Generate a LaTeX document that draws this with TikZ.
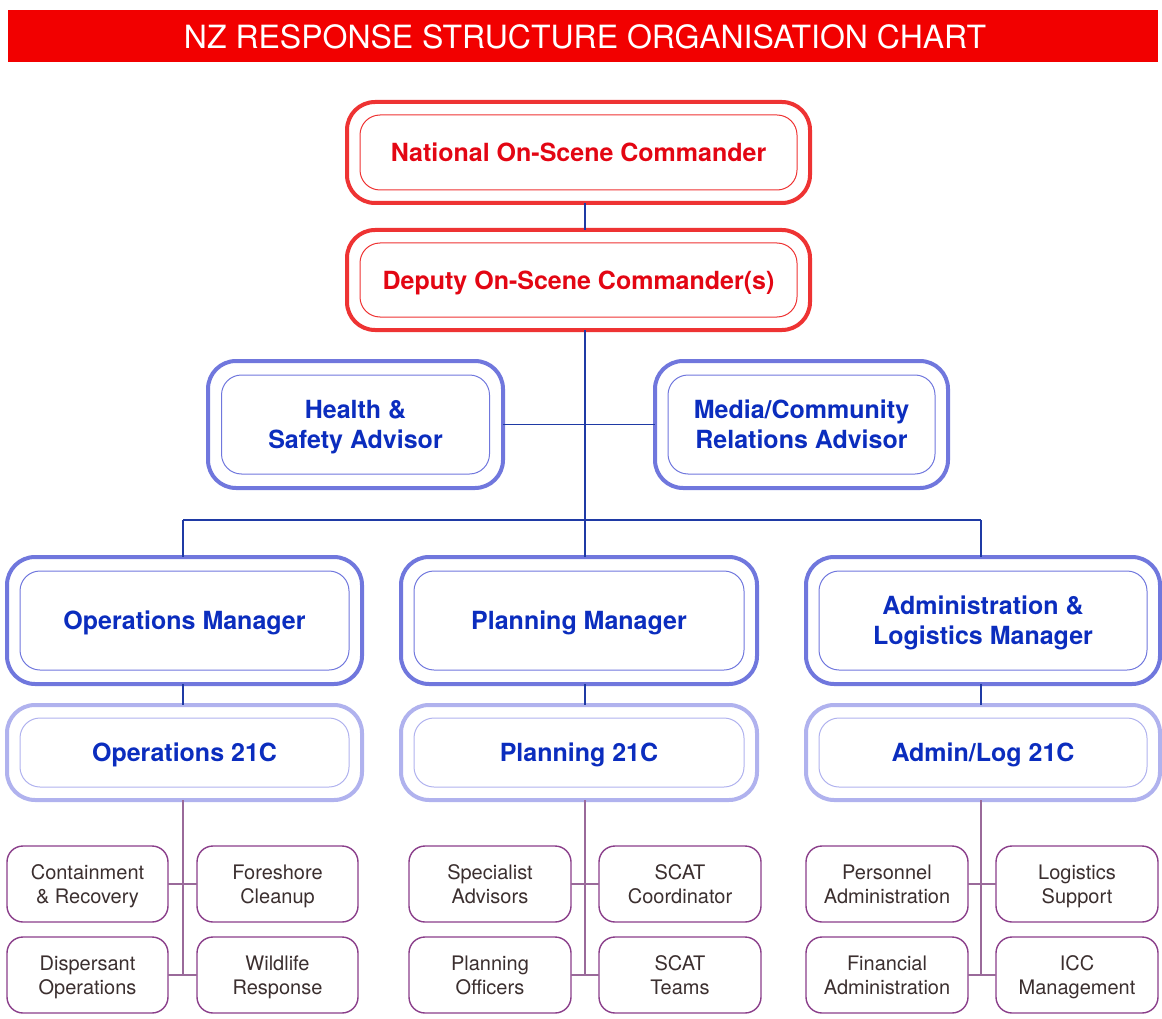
\documentclass[tikz,border=0pt]{standalone}
\usepackage{fontspec}
\setmainfont{TeX Gyre Heros}
\usetikzlibrary{calc}
\definecolor{bannerred}{HTML}{F20000}
\definecolor{cmdred}{HTML}{EE3333}
\definecolor{cmdtext}{HTML}{E30613}
\definecolor{mgrblue}{HTML}{7077DD}
\definecolor{mgrtext}{HTML}{0B2DBE}
\definecolor{icblue}{HTML}{B0B2EE}
\definecolor{linkblue}{HTML}{1F3AA5}
\definecolor{unitpurple}{HTML}{8A3E8A}
\definecolor{unitlink}{HTML}{9A6A9A}
\definecolor{unittext}{HTML}{3B2F2F}
\tikzset{
  x=1pt, y=-1pt,
  shell/.style={draw, rectangle, rounded corners=28pt, line width=4pt, inner sep=0pt, outer sep=0pt},
  core/.style={draw, rectangle, rounded corners=20pt, line width=1pt, inner sep=0pt, outer sep=0pt,
    align=center, font=\fontsize{25}{30}\selectfont\bfseries,
    execute at begin node=\rule{0pt}{26pt}, execute at end node=\rule[-8pt]{0pt}{8pt}},
  corelabel/.style={inner sep=0pt, font=\fontsize{25}{30}\selectfont\bfseries, text=mgrtext},
  cmdshell/.style={shell, draw=cmdred},
  cmdcore/.style={core, draw=cmdred, text=cmdtext},
  mgrshell/.style={shell, draw=mgrblue},
  mgrcore/.style={core, draw=mgrblue, text=mgrtext},
  icshell/.style={shell, draw=icblue},
  iccore/.style={core, draw=icblue, text=mgrtext},
  unit/.style={draw=unitpurple, rectangle, rounded corners=16pt, line width=1.4pt,
    minimum width=161pt, minimum height=76pt, inner sep=0pt, outer sep=0pt},
  unitlabel/.style={inner sep=0pt, text=unittext, font=\fontsize{20}{24}\selectfont},
  link/.style={draw=linkblue, line width=1.2pt},
  unitlinkstyle/.style={draw=unitlink, line width=1.2pt},
}
% two centred lines with even strut spacing
\newcommand\pairlines[2]{\begin{tabular}{@{}c@{}}#1\\#2\end{tabular}}
% boxed unit with its two-line caption
\newcommand\unitbox[5][161pt]{%
  \node[unit, minimum width=#1] (#2) at #3 {};
  \node[unitlabel] (#2-t) at ($(#2)+(0,2.4)$) {\pairlines{#4}{#5}};
}
\begin{document}
\begin{tikzpicture}
\useasboundingbox (0,0) rectangle (1162,1019);

% banner
\node[fill=bannerred, minimum width=1150pt, minimum height=52pt, inner sep=0pt] (banner) at (583,36) {};
\node[text=white, inner sep=0pt, font=\fontsize{32}{36}\selectfont] (banner-text) at (585,36.5)
      {NZ RESPONSE STRUCTURE ORGANISATION CHART};

% spine positions of the connectors
\coordinate (spine) at (585,0);
\coordinate (opsx) at (183,0);
\coordinate (admx) at (981,0);
\coordinate (busy) at (0,520);

% command level
\node[cmdshell, minimum width=463pt, minimum height=101pt] (nosc) at (578.5,152.5) {};
\node[cmdcore, minimum width=437pt, minimum height=75pt] (nosc-in) at (nosc) {National On-Scene Commander};
\node[cmdshell, minimum width=463pt, minimum height=100pt] (dosc) at (578.5,280) {};
\node[cmdcore, minimum width=437pt, minimum height=74pt] (dosc-in) at (dosc) {Deputy On-Scene Commander(s)};

% advisors
\node[mgrshell, minimum width=295pt, minimum height=127pt] (hs) at (355.5,424.5) {};
\node[mgrcore, minimum width=268pt, minimum height=99pt] (hs-in) at (hs) {};
\node[corelabel] (hs-t) at ($(hs)+(0,3)$) {\pairlines{Health \&}{Safety Advisor}};
\node[mgrshell, minimum width=293pt, minimum height=127pt] (media) at (801.5,424.5) {};
\node[mgrcore, minimum width=267pt, minimum height=99pt] (media-in) at (media) {};
\node[corelabel] (media-t) at ($(media)+(0,3)$) {\pairlines{Media/Community}{Relations Advisor}};

% managers
\node[mgrshell, minimum width=355pt, minimum height=127pt] (opsm) at (184.5,620.5) {};
\node[mgrcore, minimum width=329pt, minimum height=99pt] (opsm-in) at (opsm) {Operations Manager};
\node[mgrshell, minimum width=356pt, minimum height=127pt] (planm) at (579,620.5) {};
\node[mgrcore, minimum width=330pt, minimum height=99pt] (planm-in) at (planm) {Planning Manager};
\node[mgrshell, minimum width=354pt, minimum height=127pt] (admm) at (983,620.5) {};
\node[mgrcore, minimum width=328pt, minimum height=99pt] (admm-in) at (admm) {};
\node[corelabel] (admm-t) at ($(admm)+(0,3)$) {\pairlines{Administration \&}{Logistics Manager}};

% incident controllers
\node[icshell, minimum width=355pt, minimum height=95pt] (ops21) at (184.5,752.5) {};
\node[iccore, minimum width=329pt, minimum height=69pt] (ops21-in) at (ops21) {Operations 21C};
\node[icshell, minimum width=356pt, minimum height=95pt] (plan21) at (579,752.5) {};
\node[iccore, minimum width=330pt, minimum height=69pt] (plan21-in) at (plan21) {Planning 21C};
\node[icshell, minimum width=354pt, minimum height=95pt] (adm21) at (983,752.5) {};
\node[iccore, minimum width=328pt, minimum height=69pt] (adm21-in) at (adm21) {Admin/Log 21C};

% units
\unitbox{cont}{(87.5,884)}{Containment}{\& Recovery}
\unitbox{fore}{(277.5,884)}{Foreshore}{Cleanup}
\unitbox{disp}{(87.5,975)}{Dispersant}{Operations}
\unitbox{wild}{(277.5,975)}{Wildlife}{Response}

\unitbox[162pt]{spec}{(490,884)}{Specialist}{Advisors}
\unitbox[162pt]{scatc}{(680,884)}{SCAT}{Coordinator}
\unitbox[162pt]{pofc}{(490,975)}{Planning}{Officers}
\unitbox[162pt]{scatt}{(680,975)}{SCAT}{Teams}

\unitbox[162pt]{pers}{(887,884)}{Personnel}{Administration}
\unitbox[162pt]{logs}{(1077,884)}{Logistics}{Support}
\unitbox[162pt]{fina}{(887,975)}{Financial}{Administration}
\unitbox[162pt]{iccm}{(1077,975)}{ICC}{Management}

% command connectors
\draw[link] (nosc.south -| spine) -- (dosc.north -| spine);
\draw[link] (dosc.south -| spine) -- (busy -| spine);
\draw[link] (hs.east) -- (media.west);
\draw[link] (busy -| opsx) -- (busy -| admx);
\draw[link] (busy -| opsx) -- (opsm.north -| opsx);
\draw[link] (busy -| spine) -- (planm.north -| spine);
\draw[link] (busy -| admx) -- (admm.north -| admx);
\draw[link] (opsm.south -| opsx) -- (ops21.north -| opsx);
\draw[link] (planm.south -| spine) -- (plan21.north -| spine);
\draw[link] (admm.south -| admx) -- (adm21.north -| admx);

% unit connectors
\draw[unitlinkstyle] (ops21.south -| opsx) -- (disp.east -| opsx);
\draw[unitlinkstyle] (cont.east) -- (fore.west);
\draw[unitlinkstyle] (disp.east) -- (wild.west);
\draw[unitlinkstyle] (plan21.south -| spine) -- (pofc.east -| spine);
\draw[unitlinkstyle] (spec.east) -- (scatc.west);
\draw[unitlinkstyle] (pofc.east) -- (scatt.west);
\draw[unitlinkstyle] (adm21.south -| admx) -- (fina.east -| admx);
\draw[unitlinkstyle] (pers.east) -- (logs.west);
\draw[unitlinkstyle] (fina.east) -- (iccm.west);
\end{tikzpicture}
\end{document}
